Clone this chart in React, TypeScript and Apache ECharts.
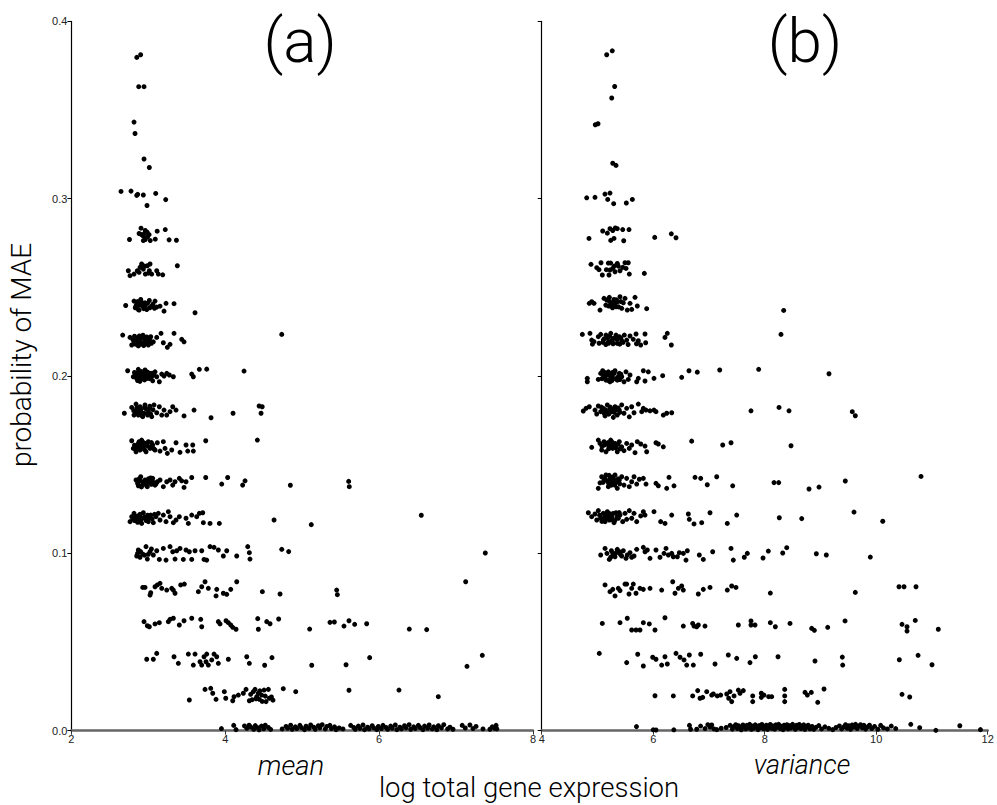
import React, { useEffect, useRef } from "react";
import * as echarts from "echarts";

// ---------- panel (a): mean ----------
const meanTop = [
  [2.85,0.3797],[2.90,0.3812],[2.875,0.3632],[2.944,0.3632],[2.814,0.3432],[2.827,0.3368],[2.944,0.3224],[3.013,0.3176],
  [2.645,0.3041],[2.775,0.3043],[2.849,0.3019],[2.862,0.3025],[2.935,0.3021],[3.096,0.3030],[3.226,0.2995],[2.983,0.2962],
  [2.905,0.2834],[2.88,0.2804],[2.91,0.2798],[2.935,0.2789],[2.96,0.2821],[2.985,0.2811],[3.01,0.2798],[2.935,0.2764],[2.96,0.277],
  [3.025,0.2764],[3.09,0.2772],[3.115,0.2817],[3.22,0.2826],[2.755,0.277],[3.27,0.2768],[3.365,0.2766],[2.95,0.2805],[2.99,0.2785],
  [2.740,0.2594],[2.762,0.2566],[2.814,0.2575],[2.857,0.2594],[2.892,0.2613],[2.913,0.2632],[2.935,0.2603],[2.961,0.2575],[2.987,0.2622],
  [3.013,0.2594],[3.022,0.2632],[3.044,0.2575],[3.109,0.2594],[3.13,0.2575],[3.187,0.2571],[3.377,0.2622],[2.88,0.2585],[2.95,0.2620],[3.0,0.2580],
];
const meanMid = [
  [2.706,0.2398],[2.814,0.2423],[2.849,0.2404],[2.870,0.2375],[2.901,0.2432],[2.927,0.2394],[2.957,0.2413],[2.979,0.2375],[3.013,0.2426],
  [3.044,0.2394],[3.087,0.2423],[3.109,0.2389],[3.152,0.2394],[3.204,0.2366],[3.230,0.241],[3.334,0.2408],[3.607,0.2357],
  [2.83,0.2385],[2.89,0.2400],[2.94,0.2380],[2.99,0.2410],[3.06,0.2405],[2.86,0.2420],
  [2.667,0.2231],[2.762,0.2218],[2.784,0.2175],[2.814,0.2193],[2.849,0.2207],[2.883,0.2226],[2.913,0.2188],[2.935,0.2218],[2.970,0.2203],
  [3.0,0.2175],[3.031,0.2222],[3.065,0.2193],[3.109,0.2218],[3.165,0.2241],[3.195,0.2188],[3.247,0.2162],[3.282,0.2179],[3.334,0.2241],
  [3.434,0.2207],[3.464,0.2193],[4.734,0.2235],[2.80,0.2205],[2.83,0.2180],[2.86,0.2190],[2.89,0.2200],[2.92,0.2215],[2.95,0.2185],
  [2.98,0.2220],[3.01,0.2195],[3.04,0.2185],[2.87,0.2170],[2.94,0.2172],
  [2.731,0.2030],[2.805,0.1996],[2.840,0.2015],[2.870,0.2038],[2.892,0.1977],[2.927,0.2006],[2.957,0.2034],[2.987,0.1987],[3.022,0.2015],
  [3.057,0.1973],[3.087,0.2024],[3.109,0.1996],[3.143,0.1968],[3.174,0.2011],[3.204,0.2],[3.239,0.2015],[3.273,0.2006],[3.325,0.1996],
  [3.564,0.2011],[3.585,0.1996],[3.663,0.2038],[3.759,0.2039],[4.244,0.2028],[2.82,0.2020],[2.85,0.1985],[2.88,0.2005],[2.91,0.2025],
  [2.94,0.1990],[2.97,0.2010],[3.00,0.2000],[3.04,0.1995],[2.86,0.1975],[2.95,0.1978],[3.07,0.2005],
  [2.688,0.179],[2.784,0.1823],[2.814,0.178],[2.840,0.1842],[2.870,0.1799],[2.892,0.1827],[2.927,0.1771],[2.957,0.1837],[2.987,0.179],
  [3.013,0.1818],[3.044,0.1771],[3.074,0.1837],[3.109,0.1793],[3.143,0.1827],[3.174,0.178],[3.204,0.1808],[3.239,0.178],[3.282,0.1799],
  [3.317,0.1827],[3.360,0.1808],[3.464,0.1775],[3.594,0.1808],[3.815,0.1765],[4.101,0.179],[4.44,0.1831],[4.48,0.1827],[4.465,0.179],
  [2.81,0.1805],[2.86,0.1795],[2.90,0.1810],[2.94,0.1790],[2.97,0.1815],[3.00,0.1800],[3.03,0.1785],[2.85,0.1820],[2.92,0.1776],
  [2.784,0.1635],[2.805,0.1592],[2.840,0.1573],[2.870,0.162],[2.892,0.1583],[2.913,0.1639],[2.935,0.1601],[2.970,0.1573],[3.0,0.163],
  [3.022,0.1592],[3.057,0.1611],[3.087,0.1583],[3.117,0.1624],[3.152,0.1577],[3.195,0.163],[3.217,0.1592],[3.247,0.1564],[3.304,0.1583],
  [3.360,0.1624],[3.412,0.157],[3.490,0.1611],[3.512,0.1577],[3.577,0.1611],[3.585,0.1577],[3.746,0.1635],[4.417,0.1639],
  [2.82,0.1610],[2.86,0.1600],[2.90,0.1615],[2.95,0.1585],[2.99,0.1605],[3.04,0.1625],[2.88,0.1630],[2.96,0.1620],
];
const meanCore = [
  [2.84,0.2395],[2.91,0.2418],[2.96,0.2392],[3.02,0.2385],[2.88,0.2372],[3.08,0.2382],
  [2.82,0.2225],[2.85,0.2215],[2.90,0.2180],[2.93,0.2230],[2.97,0.2190],[3.02,0.2210],[2.88,0.2212],[2.96,0.2205],
  [2.83,0.2005],[2.87,0.2020],[2.90,0.1990],[2.93,0.2015],[2.96,0.1995],[2.99,0.2022],[3.02,0.1985],[2.89,0.1970],[3.05,0.2015],
  [2.83,0.1790],[2.88,0.1815],[2.91,0.1795],[2.95,0.1822],[2.99,0.1780],[3.06,0.1810],[2.87,0.1780],[3.02,0.1830],
  [2.85,0.1590],[2.89,0.1605],[2.92,0.1595],[2.97,0.1612],[3.02,0.1600],[3.07,0.1590],[2.94,0.1625],
  [2.88,0.1420],[2.93,0.1400],[2.97,0.1390],[3.01,0.1405],[3.10,0.1392],[2.91,0.1375],[3.03,0.1425],
  [2.82,0.1185],[2.85,0.1205],[2.89,0.1220],[2.92,0.1198],[2.97,0.1185],[3.02,0.1200],[3.08,0.1220],[2.88,0.1180],
];
const meanLow = [
  [2.840,0.1414],[2.870,0.1381],[2.901,0.1432],[2.935,0.1404],[2.957,0.1414],[2.987,0.1376],[3.022,0.1409],[3.057,0.1423],[3.087,0.1385],
  [3.117,0.1404],[3.152,0.1414],[3.195,0.1376],[3.239,0.1404],[3.282,0.1414],[3.317,0.1385],[3.347,0.1404],[3.403,0.1423],[3.434,0.1409],
  [3.464,0.1372],[3.490,0.1404],[3.564,0.1428],[3.746,0.1428],[3.954,0.1391],[4.031,0.1428],[4.226,0.1385],[4.257,0.1409],[4.846,0.1384],
  [5.604,0.1406],[5.612,0.1376],[2.86,0.1395],[2.89,0.1410],[2.92,0.1385],[2.96,0.1398],[3.00,0.1420],[3.04,0.1390],[2.98,0.1380],[3.07,0.1400],
  [2.762,0.1179],[2.784,0.1207],[2.814,0.1226],[2.849,0.1188],[2.883,0.1216],[2.913,0.1169],[2.935,0.1229],[2.970,0.1198],[3.0,0.1179],
  [3.031,0.1216],[3.065,0.1173],[3.100,0.1207],[3.13,0.1226],[3.152,0.1188],[3.195,0.1216],[3.230,0.1179],[3.260,0.1235],[3.282,0.1207],
  [3.325,0.1173],[3.360,0.1188],[3.403,0.1207],[3.490,0.1198],[3.520,0.1169],[3.564,0.1216],[3.629,0.1207],[3.663,0.1226],[3.707,0.1229],
  [3.715,0.1173],[3.802,0.1169],[3.923,0.1169],[4.634,0.1188],[5.118,0.1162],[6.548,0.1215],
  [2.80,0.1195],[2.83,0.1210],[2.87,0.1200],[2.90,0.1185],[2.95,0.1205],[2.99,0.1215],[2.86,0.1175],[3.05,0.1195],
  [2.849,0.0985],[2.870,0.1019],[2.892,0.0978],[2.927,0.0996],[2.970,0.1038],[2.987,0.0968],[3.022,0.1009],[3.065,0.0991],[3.109,0.1015],
  [3.143,0.0966],[3.195,0.1028],[3.230,0.0962],[3.282,0.1038],[3.317,0.1009],[3.347,0.0968],[3.369,0.1015],[3.412,0.1028],[3.455,0.0966],
  [3.490,0.1019],[3.533,0.1009],[3.564,0.0966],[3.607,0.1015],[3.694,0.1015],[3.724,0.0966],[3.759,0.0962],[3.802,0.1038],[3.854,0.1034],
  [3.910,0.1019],[3.975,0.0985],[4.019,0.1015],[4.149,0.0985],[4.292,0.1038],[4.313,0.1004],[4.321,0.0968],[4.734,0.1023],[4.824,0.101],
  [7.38,0.1002],[2.86,0.1000],[2.90,0.1010],[2.95,0.0990],[3.00,0.0995],[3.04,0.1025],
  [2.927,0.0808],[2.957,0.0808],[3.022,0.0765],[3.031,0.0778],[3.087,0.0812],[3.117,0.0822],[3.152,0.0831],[3.174,0.0803],[3.239,0.0793],
  [3.304,0.0803],[3.325,0.0793],[3.347,0.0775],[3.421,0.0822],[3.468,0.0827],[3.650,0.0784],[3.694,0.0812],[3.737,0.084],[3.780,0.0803],
  [3.889,0.0797],[3.880,0.076],[3.975,0.0775],[4.019,0.0769],[4.071,0.0797],[4.149,0.084],[4.482,0.0784],[4.712,0.0771],[5.448,0.0793],
  [5.457,0.0767],[7.125,0.084],
  [2.944,0.0615],[2.987,0.0592],[3.013,0.0586],[3.087,0.0602],[3.143,0.0609],[3.260,0.0615],[3.282,0.0628],[3.325,0.0634],[3.403,0.0596],
  [3.464,0.062],[3.564,0.0634],[3.681,0.0628],[3.694,0.0586],[3.910,0.0615],[3.932,0.0602],[4.010,0.062],[4.040,0.0609],[4.071,0.0596],
  [4.097,0.0583],[4.140,0.0572],[4.422,0.0632],[4.43,0.0572],[4.539,0.0615],[4.582,0.0603],[4.694,0.063],[5.097,0.0573],[5.361,0.0611],
  [5.418,0.0613],[5.543,0.059],[5.608,0.062],[5.682,0.06],[5.838,0.0603],[6.392,0.0573],[6.618,0.057],
  [2.979,0.0403],[3.065,0.0403],[3.109,0.0436],[3.334,0.0417],[3.390,0.038],[3.520,0.0432],[3.585,0.037],[3.607,0.0432],[3.672,0.0389],
  [3.694,0.037],[3.724,0.0417],[3.750,0.0389],[3.759,0.0432],[3.780,0.037],[3.824,0.0399],[3.854,0.0432],[3.889,0.0417],[3.910,0.038],
  [4.040,0.0403],[4.279,0.0417],[4.313,0.038],[4.512,0.0369],[4.607,0.0412],[5.124,0.0369],[5.57,0.0372],[5.877,0.0412],[7.142,0.0363],[7.341,0.0425],
  [3.533,0.0173],[3.737,0.0233],[3.811,0.0239],[3.837,0.0211],[3.880,0.0177],[3.988,0.022],[4.006,0.0183],[4.097,0.0169],[4.114,0.0192],
  [4.170,0.0201],[4.235,0.0211],[4.270,0.0233],[4.313,0.0169],[4.365,0.022],[4.387,0.0233],[4.409,0.0192],[4.430,0.0211],[4.443,0.0177],
  [4.473,0.0201],[4.504,0.0229],[4.530,0.0164],[4.560,0.0233],[4.573,0.0183],[4.754,0.0237],[4.916,0.022],[5.608,0.0228],[6.258,0.0229],
  [6.769,0.0192],[4.33,0.0205],[4.40,0.0180],[4.45,0.0225],[4.52,0.0195],[4.35,0.0175],[4.60,0.0190],[4.62,0.0172],[4.48,0.0165],
];
const meanZero = [
  [3.95,0.0012],[4.11,0.0030],[4.14,0.0006],[4.25,0.0027],[4.28,0.0014],[4.31,0.0031],[4.33,0.0021],[4.37,0.0008],[4.39,0.0029],[4.42,0.0017],
  [4.44,0.0005],[4.47,0.0026],[4.50,0.0011],[4.52,0.0031],[4.56,0.0018],[4.59,0.0007],[4.74,0.0010],[4.79,0.0024],[4.81,0.0014],[4.85,0.0031],
  [4.87,0.0008],[4.91,0.0022],[4.93,0.0012],[4.97,0.0030],[4.99,0.0017],[5.03,0.0006],[5.05,0.0025],[5.09,0.0013],[5.11,0.0032],[5.15,0.0020],
  [5.17,0.0008],[5.21,0.0028],[5.23,0.0016],[5.26,0.0034],[5.30,0.0010],[5.32,0.0024],[5.36,0.0030],[5.38,0.0012],[5.42,0.0022],[5.44,0.0006],
  [5.48,0.0015],[5.53,0.0010],[5.63,0.0030],[5.67,0.0018],[5.69,0.0008],[5.73,0.0026],[5.75,0.0013],[5.79,0.0032],[5.81,0.0006],[5.85,0.0020],
  [5.87,0.0010],[5.91,0.0028],[5.93,0.0016],[5.97,0.0006],[5.99,0.0024],[6.03,0.0012],[6.05,0.0030],[6.09,0.0018],[6.11,0.0008],[6.15,0.0026],
  [6.17,0.0014],[6.21,0.0032],[6.23,0.0006],[6.27,0.0020],[6.29,0.0010],[6.33,0.0028],[6.35,0.0016],[6.39,0.0034],[6.41,0.0008],[6.45,0.0022],
  [6.47,0.0012],[6.51,0.0030],[6.53,0.0018],[6.57,0.0006],[6.59,0.0026],[6.63,0.0014],[6.65,0.0032],[6.69,0.0010],[6.71,0.0022],[6.75,0.0006],
  [6.77,0.0028],[6.81,0.0016],[6.84,0.0034],[6.89,0.0010],[6.92,0.0020],[6.96,0.0008],[7.08,0.0030],[7.12,0.0015],[7.18,0.0032],[7.22,0.0012],
  [7.26,0.0024],[7.35,0.0010],[7.44,0.0008],[7.47,0.0022],[7.50,0.0014],[7.52,0.0030],[7.53,0.0010],
];

// ---------- panel (b): variance ----------
const varTop = [
  [5.166,0.3812],[5.266,0.3834],[5.309,0.3633],[5.256,0.3568],[4.962,0.3417],[5.010,0.3423],[5.274,0.32],[5.333,0.3188],
  [4.807,0.3005],[4.956,0.3008],[5.135,0.3026],[5.225,0.3032],[5.184,0.2996],[5.291,0.2972],[5.518,0.2976],[5.626,0.2996],
  [4.848,0.2776],[5.094,0.2818],[5.177,0.2806],[5.225,0.2831],[5.274,0.2821],[5.320,0.2835],[5.356,0.2831],[5.238,0.2765],[5.297,0.2776],
  [5.453,0.2826],[5.566,0.2826],[5.471,0.2763],[6.027,0.2782],[6.325,0.2802],[6.409,0.278],
  [4.884,0.263],[4.987,0.2611],[5.028,0.26],[5.064,0.2639],[5.087,0.257],[5.195,0.2637],[5.238,0.2637],[5.207,0.257],[5.225,0.2598],
  [5.274,0.2607],[5.315,0.2588],[5.356,0.2635],[5.374,0.262],[5.405,0.2594],[5.453,0.2613],[5.494,0.2639],[5.512,0.2607],[5.553,0.2639],
  [5.571,0.2575],[5.841,0.2579],[5.30,0.2620],[5.16,0.2600],
];
const varMid = [
  [4.854,0.241],[4.897,0.2419],[4.938,0.241],[5.046,0.2372],[5.118,0.2438],[5.166,0.2429],[5.213,0.2444],[5.256,0.241],[5.297,0.2432],
  [5.333,0.2391],[5.356,0.2419],[5.405,0.2447],[5.435,0.2382],[5.464,0.2413],[5.494,0.2438],[5.535,0.2372],[5.584,0.241],[5.614,0.2376],
  [5.674,0.2444],[5.715,0.2395],[5.883,0.238],[8.341,0.237],[5.20,0.2395],[5.27,0.2385],[5.31,0.2405],[5.38,0.2390],[5.15,0.2400],[5.42,0.2420],
  [4.729,0.2235],[4.866,0.2241],[4.897,0.2203],[4.938,0.2194],[5.015,0.2222],[5.058,0.2235],[5.105,0.2203],[5.153,0.2231],[5.195,0.2193],
  [5.238,0.2241],[5.285,0.2212],[5.333,0.2231],[5.356,0.2184],[5.392,0.2222],[5.435,0.2199],[5.482,0.2231],[5.525,0.2203],[5.584,0.2226],
  [5.643,0.2207],[5.692,0.2237],[5.733,0.2199],[5.776,0.2175],[5.853,0.2237],[5.865,0.2188],[6.211,0.2218],[6.253,0.2241],[6.325,0.2175],
  [8.292,0.2235],[4.91,0.2180],[5.03,0.2185],[5.15,0.2178],[5.28,0.2182],[5.40,0.2180],[5.55,0.2178],[5.70,0.2182],[5.12,0.2210],[5.25,0.2200],
  [5.31,0.2215],[5.46,0.2190],
  [4.818,0.1987],[4.818,0.1968],[5.015,0.1981],[5.058,0.2015],[5.094,0.203],[5.118,0.1996],[5.153,0.1977],[5.195,0.2024],[5.225,0.1968],
  [5.256,0.2006],[5.285,0.1987],[5.315,0.203],[5.356,0.1977],[5.392,0.2015],[5.435,0.1996],[5.476,0.1968],[5.512,0.2024],[5.553,0.1981],
  [5.584,0.2006],[5.704,0.1968],[5.733,0.1987],[5.823,0.203],[5.853,0.1972],[5.912,0.2024],[6.014,0.1987],[6.170,0.2002],[6.511,0.1993],
  [6.642,0.203],[6.791,0.2022],[7.193,0.2034],[7.892,0.2038],[9.153,0.2013],[5.08,0.1985],[5.17,0.2010],[5.24,0.1990],[5.30,0.2015],
  [5.37,0.1995],[5.20,0.1975],[5.13,0.2020],[5.42,0.2010],
  [4.746,0.1803],[4.795,0.1818],[4.854,0.1827],[4.956,0.1808],[4.987,0.1786],[5.015,0.1831],[5.058,0.1799],[5.105,0.1818],[5.136,0.1775],
  [5.177,0.1837],[5.213,0.179],[5.256,0.1812],[5.285,0.1767],[5.315,0.1827],[5.356,0.178],[5.392,0.1808],[5.435,0.1837],[5.476,0.179],
  [5.524,0.1818],[5.571,0.177],[5.614,0.1827],[5.656,0.1793],[5.733,0.1842],[5.794,0.1799],[5.823,0.1818],[5.871,0.1808],[5.943,0.1804],
  [6.014,0.1808],[6.050,0.1799],[6.181,0.178],[6.242,0.179],[6.332,0.1793],[7.754,0.1804],[8.257,0.1823],[8.436,0.1804],[9.571,0.1799],
  [9.625,0.1776],[5.09,0.1810],[5.16,0.1800],[5.23,0.1825],[5.30,0.1795],[5.20,0.1785],[5.37,0.1820],[5.12,0.1790],
  [4.897,0.1598],[5.015,0.1639],[5.046,0.162],[5.076,0.1583],[5.118,0.163],[5.153,0.1573],[5.195,0.1611],[5.238,0.1639],[5.274,0.1592],
  [5.315,0.162],[5.356,0.1573],[5.392,0.163],[5.435,0.1601],[5.476,0.1579],[5.524,0.162],[5.571,0.1592],[5.614,0.1611],[5.674,0.1568],
  [5.715,0.163],[5.776,0.1617],[5.853,0.1605],[5.883,0.1573],[6.050,0.1624],[6.092,0.1617],[6.181,0.1601],[6.690,0.1633],[7.247,0.1611],
  [7.396,0.1624],[8.472,0.1607],[5.08,0.1605],[5.16,0.1620],[5.22,0.1595],[5.30,0.1610],[5.26,0.1628],[5.41,0.1590],
];
const varCore = [
  [5.22,0.2420],[5.24,0.2395],[5.29,0.2418],[5.34,0.2430],[5.19,0.2430],
  [5.18,0.2215],[5.22,0.2225],[5.27,0.2190],[5.35,0.2205],[5.20,0.2185],[5.10,0.2190],[5.42,0.2215],
  [5.11,0.2000],[5.14,0.1990],[5.21,0.2005],[5.27,0.2020],[5.33,0.1985],[5.40,0.1980],[5.26,0.1975],
  [5.07,0.1825],[5.14,0.1810],[5.18,0.1795],[5.25,0.1800],[5.33,0.1810],[5.40,0.1795],[5.22,0.1815],
  [5.12,0.1610],[5.19,0.1625],[5.25,0.1605],[5.33,0.1595],[5.37,0.1615],[5.20,0.1590],
  [5.13,0.1425],[5.20,0.1395],[5.27,0.1430],[5.31,0.1385],[5.37,0.1420],[5.23,0.1405],
  [5.16,0.1195],[5.21,0.1225],[5.26,0.1200],[5.31,0.1185],[5.39,0.1230],[5.14,0.1215],
  [5.17,0.1000],[5.25,0.1015],[5.29,0.0990],[5.34,0.1005],[5.41,0.0995],
];
const varLow = [
  [5.015,0.1367],[5.046,0.1398],[5.076,0.1432],[5.118,0.1414],[5.153,0.1442],[5.195,0.1376],[5.225,0.1423],[5.274,0.1395],[5.315,0.1442],
  [5.356,0.1367],[5.392,0.1414],[5.435,0.1432],[5.476,0.1385],[5.524,0.1423],[5.571,0.1376],[5.614,0.1404],[5.656,0.1432],[5.704,0.1391],
  [5.751,0.1418],[5.823,0.1423],[5.871,0.1391],[6.050,0.1395],[6.092,0.1381],[6.242,0.1367],[6.283,0.1429],[6.373,0.1381],[6.750,0.1429],
  [6.852,0.1423],[6.970,0.1387],[7.139,0.1432],[7.426,0.1381],[8.167,0.1399],[8.251,0.1399],[8.795,0.1363],[8.974,0.1374],[9.446,0.1408],
  [10.804,0.1434],[5.10,0.1400],[5.17,0.1410],[5.25,0.1385],[5.29,0.1420],[5.33,0.1400],[5.21,0.1440],[5.40,0.1392],
  [4.836,0.1229],[4.897,0.1207],[4.956,0.1222],[4.987,0.1188],[5.015,0.1241],[5.058,0.1198],[5.105,0.1226],[5.136,0.1179],[5.177,0.1235],
  [5.213,0.1188],[5.256,0.1216],[5.297,0.1173],[5.333,0.1229],[5.374,0.1198],[5.405,0.1216],[5.453,0.1179],[5.494,0.1226],[5.524,0.1192],
  [5.571,0.1241],[5.614,0.1198],[5.656,0.1226],[5.704,0.1179],[5.776,0.1211],[5.823,0.1235],[5.853,0.1216],[6.014,0.1235],[6.134,0.1179],
  [6.212,0.1169],[6.332,0.1216],[6.630,0.1222],[6.648,0.1192],[6.732,0.1166],[6.870,0.1173],[7.019,0.1229],[7.329,0.1169],[7.498,0.1216],
  [8.262,0.1201],[8.664,0.1196],[9.602,0.1233],[10.117,0.1181],[5.04,0.1215],[5.12,0.1200],[5.19,0.1210],[5.24,0.1190],[5.28,0.1225],
  [5.35,0.1205],[5.08,0.1180],
  [5.058,0.0991],[5.136,0.1028],[5.213,0.0966],[5.238,0.0978],[5.274,0.1],[5.315,0.0981],[5.356,0.1023],[5.392,0.1009],[5.435,0.0985],
  [5.464,0.1015],[5.512,0.0972],[5.535,0.0991],[5.584,0.1004],[5.614,0.0978],[5.656,0.0985],[5.704,0.1023],[5.823,0.1034],[5.853,0.1009],
  [5.894,0.1019],[5.943,0.0972],[6.050,0.1019],[6.122,0.0978],[6.194,0.1],[6.230,0.1028],[6.272,0.0991],[6.332,0.1],[6.361,0.0981],
  [6.433,0.0981],[6.469,0.1004],[6.540,0.1],[6.588,0.0962],[6.612,0.1015],[6.827,0.0991],[6.899,0.0966],[7.067,0.1009],[7.396,0.1028],
  [7.437,0.0962],[7.634,0.0978],[7.688,0.1],[7.970,0.0974],[8.065,0.1013],[8.323,0.1002],[8.395,0.1032],[8.926,0.0998],[9.105,0.0991],[9.894,0.0979],
  [5.136,0.0822],[5.225,0.0784],[5.274,0.0797],[5.315,0.076],[5.374,0.0803],[5.405,0.079],[5.494,0.0827],[5.524,0.0827],[5.566,0.0771],
  [5.614,0.0803],[5.643,0.0827],[5.692,0.0775],[5.763,0.0803],[5.823,0.0797],[5.943,0.0803],[6.152,0.0793],[6.350,0.084],[6.391,0.0775],
  [6.451,0.0803],[6.511,0.0816],[6.540,0.0793],[6.809,0.0771],[6.899,0.0797],[7.019,0.0808],[7.329,0.0793],[7.408,0.0816],[7.485,0.0808],
  [8.101,0.0776],[9.625,0.078],[10.409,0.0812],[10.499,0.0812],[10.714,0.0812],
  [5.087,0.0605],[5.405,0.0609],[5.535,0.0634],[5.614,0.0568],[5.692,0.0568],[5.763,0.0568],[5.823,0.0609],[5.930,0.0602],[6.032,0.0568],
  [6.211,0.0637],[6.540,0.059],[6.708,0.0605],[6.732,0.059],[6.780,0.0586],[6.809,0.0596],[6.929,0.059],[7.527,0.0596],[7.754,0.0619],
  [7.754,0.0596],[7.826,0.0596],[8.101,0.0609],[8.191,0.0586],[8.454,0.0605],[8.843,0.0577],[8.891,0.0566],[9.130,0.0583],[9.441,0.0619],
  [10.463,0.06],[10.553,0.0586],[10.553,0.0562],[10.701,0.0622],[11.114,0.0572],
  [5.033,0.0436],[5.524,0.0384],[5.722,0.0431],[5.823,0.0365],[5.991,0.0414],[6.050,0.0403],[6.152,0.037],[6.211,0.0417],[6.253,0.0376],
  [6.409,0.0436],[6.481,0.0414],[6.553,0.0399],[6.601,0.037],[6.648,0.0427],[6.720,0.037],[6.852,0.0431],[7.109,0.0376],[7.347,0.0427],
  [7.498,0.0408],[7.736,0.0384],[7.832,0.0417],[8.239,0.0417],[8.902,0.0393],[9.392,0.0415],[9.399,0.037],[10.415,0.04],[10.751,0.0425],[11.001,0.0372],
  [6.032,0.0197],[6.361,0.0196],[6.708,0.0196],[6.798,0.0226],[6.840,0.0183],[6.888,0.0188],[6.960,0.022],[7.049,0.0201],[7.079,0.0207],
  [7.150,0.0196],[7.211,0.0201],[7.319,0.0207],[7.354,0.0183],[7.378,0.022],[7.408,0.0164],[7.450,0.0196],[7.527,0.0229],[7.557,0.0211],
  [7.616,0.0226],[7.785,0.0196],[7.785,0.0164],[7.939,0.0211],[7.939,0.0188],[7.987,0.0201],[8.071,0.0192],[8.125,0.0192],[8.359,0.0233],
  [8.359,0.0196],[8.359,0.0164],[8.723,0.0216],[8.765,0.0201],[8.836,0.0216],[8.951,0.016],[9.064,0.0235],[10.463,0.0205],[10.601,0.019],
];
const varZero = [
  [5.70,0.0023],[6.00,0.0005],[6.05,0.0004],[6.37,0.0005],[6.65,0.0030],[6.67,0.0008],[6.78,0.0008],[6.85,0.0026],[6.93,0.0012],[6.98,0.0034],
  [7.02,0.0020],[7.05,0.0032],[7.09,0.0010],[7.14,0.0006],[7.22,0.0014],[7.31,0.0018],[7.38,0.0030],[7.42,0.0009],[7.45,0.0024],[7.48,0.0034],
  [7.51,0.0012],[7.53,0.0028],[7.56,0.0018],[7.58,0.0005],[7.61,0.0032],[7.63,0.0022],[7.66,0.0010],[7.68,0.0030],[7.71,0.0016],[7.73,0.0036],
  [7.76,0.0008],[7.78,0.0026],[7.80,0.0014],[7.83,0.0033],[7.85,0.0020],[7.88,0.0006],[7.90,0.0029],[7.93,0.0017],[7.95,0.0035],[7.98,0.0011],
  [8.00,0.0024],[8.03,0.0031],[8.05,0.0007],[8.08,0.0021],[8.10,0.0035],[8.13,0.0013],[8.15,0.0027],[8.18,0.0009],[8.20,0.0033],[8.23,0.0019],
  [8.25,0.0036],[8.28,0.0012],[8.30,0.0025],[8.33,0.0006],[8.35,0.0031],[8.37,0.0018],[8.40,0.0034],[8.42,0.0010],[8.45,0.0028],[8.47,0.0015],
  [8.50,0.0036],[8.52,0.0022],[8.55,0.0008],[8.57,0.0030],[8.60,0.0017],[8.62,0.0035],[8.65,0.0012],[8.67,0.0026],[8.70,0.0033],[8.72,0.0007],
  [8.75,0.0021],[8.78,0.0031],[8.81,0.0011],[8.85,0.0024],[8.88,0.0008],[8.92,0.0019],[8.97,0.0029],[9.02,0.0010],[9.08,0.0022],[9.15,0.0013],
  [9.22,0.0006],[9.28,0.0018],[9.34,0.0027],[9.38,0.0010],[9.42,0.0022],[9.45,0.0034],[9.48,0.0014],[9.51,0.0028],[9.54,0.0008],[9.57,0.0032],
  [9.60,0.0020],[9.63,0.0036],[9.66,0.0012],[9.69,0.0026],[9.72,0.0034],[9.75,0.0016],[9.78,0.0030],[9.81,0.0009],[9.85,0.0022],[9.88,0.0031],
  [9.92,0.0012],[9.97,0.0024],[10.03,0.0008],[10.08,0.0030],[10.13,0.0016],[10.20,0.0010],[10.27,0.0026],[10.35,0.0012],[10.62,0.0036],[10.78,0.0017],
  [11.07,0.0002],[11.50,0.0028],[11.87,0.0006],
];

const xTicksA = [2, 4, 6, 8];
const xTicksB = [4, 6, 8, 10, 12];
const yTicks = [0, 0.1, 0.2, 0.3, 0.4];

const LABEL_FONT = "'Liberation Sans', Arial, sans-serif";
const TITLE_FONT = "Roboto, 'Liberation Sans', sans-serif";

export default function App() {
  const ref = useRef<HTMLDivElement>(null);
  useEffect(() => {
    document.body.style.margin = "0";
    const chart = echarts.init(ref.current!, undefined, { renderer: "svg" });
    const gridTop = 21.4;
    const gridH = 709.3;
    const xAxisCommon = {
      type: "value",
      axisLine: { show: true, onZero: false, lineStyle: { color: "#666", width: 2.5 } },
      axisTick: { show: true, length: 4, lineStyle: { color: "#333", width: 1 } },
      axisLabel: { fontSize: 11, color: "#222", margin: 3, fontFamily: LABEL_FONT },
      splitLine: { show: false },
    };
    const yAxisCommon = {
      type: "value",
      min: yTicks[0],
      max: yTicks[yTicks.length - 1],
      interval: 0.1,
      axisLine: { show: true, lineStyle: { color: "#000", width: 1.2 } },
      axisTick: { show: true, length: 4, lineStyle: { color: "#000", width: 1 } },
      splitLine: { show: false },
    };
    const sc = (data: number[][], xi: number) => ({
      type: "scatter",
      xAxisIndex: xi,
      yAxisIndex: xi,
      data,
      symbol: "circle",
      symbolSize: 5,
      silent: true,
      itemStyle: { color: "#000", opacity: 1 },
    });
    const txt = (text: string, x: number, y: number, size: number, extra: any = {}) => ({
      type: "text",
      x,
      y,
      ...extra.el,
      style: {
        text,
        fontSize: size,
        fontFamily: TITLE_FONT,
        fontWeight: 300,
        fontStyle: extra.italic ? "italic" : "normal",
        fill: "#000",
        align: "center",
        verticalAlign: "middle",
        textAlign: "center",
        textVerticalAlign: "middle",
      },
    });
    chart.setOption({
      animation: false,
      backgroundColor: "#fff",
      grid: [
        { left: 71.4, top: gridTop, width: 461.6, height: gridH },
        { left: 541.7, top: gridTop, width: 446, height: gridH },
      ],
      xAxis: [
        { ...xAxisCommon, gridIndex: 0, min: xTicksA[0], max: xTicksA[xTicksA.length - 1], interval: 2 },
        { ...xAxisCommon, gridIndex: 1, min: xTicksB[0], max: xTicksB[xTicksB.length - 1], interval: 2 },
      ],
      yAxis: [
        {
          ...yAxisCommon,
          gridIndex: 0,
          axisLabel: { fontSize: 11, color: "#222", margin: 4, fontFamily: LABEL_FONT, formatter: (v: number) => v.toFixed(1) },
        },
        { ...yAxisCommon, gridIndex: 1, axisLabel: { show: false } },
      ],
      series: [
        sc(meanTop, 0), sc(meanMid, 0), sc(meanCore, 0), sc(meanLow, 0), sc(meanZero, 0),
        sc(varTop, 1), sc(varMid, 1), sc(varCore, 1), sc(varLow, 1), sc(varZero, 1),
      ],
      graphic: [
        txt("(a)", 300, 40, 62),
        txt("(b)", 805, 40, 62),
        txt("probability of MAE", 21, 355, 28, { el: { rotation: Math.PI / 2 } }),
        txt("mean", 291, 765, 27.5, { italic: true }),
        txt("variance", 802, 765, 27, { italic: true }),
        txt("log total gene expression", 529, 787, 27.5),
      ],
    });
    return () => chart.dispose();
  }, []);
  return <div ref={ref} style={{ position: "absolute", left: 0, top: 0, width: 997, height: 805 }} />;
}
